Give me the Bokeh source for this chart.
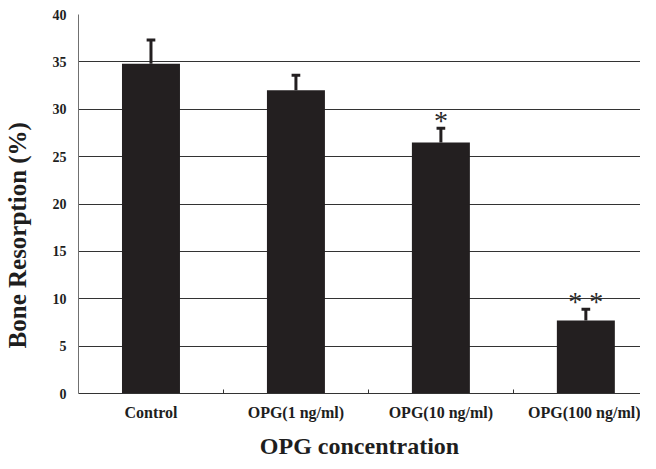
from bokeh.plotting import figure
from bokeh.models import Range1d, FixedTicker, ColumnDataSource
from bokeh.core.properties import value
from bokeh.embed import file_html
from bokeh.resources import INLINE

categories = ["Control", "OPG(1 ng/ml)", "OPG(10 ng/ml)", "OPG(100 ng/ml)"]
means = [34.8, 32.0, 26.5, 7.7]
errors = [2.5, 1.6, 1.5, 1.2]
marks = ["", "", "*", "* *"]
y_ticks = [0, 5, 10, 15, 20, 25, 30, 35, 40]
x_title = "OPG concentration"
y_title = "Bone Resorption (%)"

FONT = "Liberation Serif"
BAR = "#231f20"
TXT = "#1e1e1e"

xs = [i + 0.5 for i in range(len(categories))]
tops = [m + e for m, e in zip(means, errors)]

src = ColumnDataSource(dict(x=xs, mean=means, top=tops, mark=marks,
                            cl=[x - 0.03 for x in xs], cr=[x + 0.03 for x in xs]))

p = figure(width=640, height=461, output_backend="svg", toolbar_location=None,
           x_range=Range1d(0, 3.877), y_range=Range1d(0, 40),
           min_border_left=72, min_border_right=0, min_border_top=14, min_border_bottom=68)
p.outline_line_color = None
p.background_fill_color = "white"

p.vbar(x="x", top="mean", bottom=0, width=0.4, source=src, fill_color=BAR, line_color=None)
p.segment(x0="x", y0="mean", x1="x", y1="top", source=src, line_color=BAR, line_width=3)
p.segment(x0="cl", y0="top", x1="cr", y1="top", source=src, line_color=BAR, line_width=3)
p.text(x="x", y="top", text="mark", source=src, text_font=value(FONT), text_font_size="28px",
       text_align="center", text_baseline="middle", y_offset=-8, text_color="#2a2a2a")

# y axis
p.yaxis.ticker = FixedTicker(ticks=y_ticks)
p.yaxis.major_tick_line_color = None
p.yaxis.minor_tick_line_color = None
p.yaxis.axis_line_color = "#707070"
p.yaxis.major_label_text_font = FONT
p.yaxis.major_label_text_font_style = "bold"
p.yaxis.major_label_text_font_size = "14px"
p.yaxis.major_label_text_color = TXT
p.yaxis.major_label_standoff = 6
# trailing no-break spaces move the visible title down, as in the original
p.yaxis.axis_label = y_title + "\u00a0" * 10
p.yaxis.axis_label_text_font = FONT
p.yaxis.axis_label_text_font_style = "bold"
p.yaxis.axis_label_text_font_size = "25px"
p.yaxis.axis_label_text_color = TXT
p.yaxis.axis_label_standoff = 19

# x axis
p.xaxis.ticker = FixedTicker(ticks=xs, minor_ticks=[1, 2, 3])
p.xaxis.major_label_overrides = {x: c for x, c in zip(xs, categories)}
p.xaxis.major_tick_line_color = None
p.xaxis.minor_tick_line_color = "#333333"
p.xaxis.minor_tick_in = 4
p.xaxis.minor_tick_out = 0
p.xaxis.axis_line_color = "#333333"
p.xaxis.major_label_text_font = FONT
p.xaxis.major_label_text_font_style = "bold"
p.xaxis.major_label_text_font_size = "16px"
p.xaxis.major_label_text_color = TXT
p.xaxis.major_label_standoff = 4
p.xaxis.axis_label = x_title
p.xaxis.axis_label_text_font = FONT
p.xaxis.axis_label_text_font_style = "bold"
p.xaxis.axis_label_text_font_size = "24px"
p.xaxis.axis_label_text_color = TXT
p.xaxis.axis_label_standoff = 9

p.xgrid.grid_line_color = None
p.ygrid.ticker = FixedTicker(ticks=y_ticks)
p.ygrid.grid_line_color = "#333333"
p.ygrid.grid_line_width = 1

open("out.html", "w").write(file_html(p, INLINE))
